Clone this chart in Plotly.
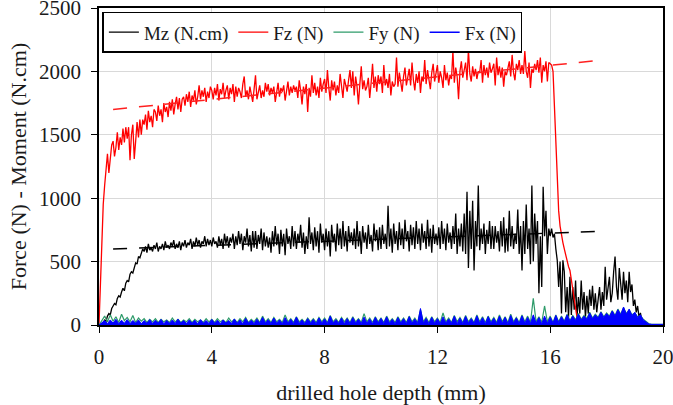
import plotly.graph_objects as go

# sampling grids of drilled depth (mm)
depth_fine = [round(i * 0.05, 2) for i in range(401)]   # Fz, Mz
depth = [round(i * 0.1, 1) for i in range(201)]          # Fy, Fx

fz = [0, 350, 700, 950, 1100, 1250, 1350, 1200, 1300, 1420,
      1450, 1330, 1400, 1520, 1380, 1480, 1420, 1550, 1440, 1560,
      1470, 1560, 1300, 1500, 1580, 1310, 1450, 1600, 1480, 1620,
      1500, 1620, 1580, 1660, 1540, 1690, 1600, 1650, 1560, 1700,
      1680, 1610, 1730, 1650, 1700, 1600, 1750, 1680, 1720, 1640,
      1760, 1690, 1780, 1660, 1740, 1800, 1700, 1790, 1680, 1780,
      1800, 1730, 1820, 1760, 1840, 1720, 1810, 1770, 1850, 1740,
      1800, 1890, 1780, 1850, 1800, 1870, 1760, 1840, 1790, 1880,
      1850, 1780, 1870, 1810, 1900, 1770, 1860, 1820, 1910, 1790,
      1850, 1890, 1780, 1870, 1820, 1900, 1760, 1880, 1800, 1870,
      1840, 1790, 1900, 1960, 1800, 1850, 1780, 1880, 1820, 1760,
      1860, 1970, 1780, 1830, 1890, 1790, 1850, 1800, 1910, 1840,
      1900, 1810, 1870, 1830, 1880, 1760, 1850, 1910, 1800, 1870,
      1840, 1890, 1770, 1860, 1920, 1810, 1880, 1830, 1890, 1850,
      1880, 1790, 1930, 1850, 1740, 1880, 1820, 1900, 1680, 1870,
      1800, 1970, 1830, 1910, 1810, 1880, 1790, 1950, 1840, 1900,
      1940, 1830, 2010, 1870, 1770, 1930, 1850, 1920, 1810, 1890,
      1830, 1980, 1860, 1790, 1940, 1880, 1840, 1930, 2010, 1870,
      2000, 1810, 1960, 1880, 1740, 1900, 2040, 1860, 1930, 1850,
      1880, 1950, 1790, 1910, 2060, 1870, 1960, 1840, 1970, 1900,
      1960, 1830, 2050, 1890, 1940, 1870, 1980, 1810, 1920, 1880,
      1900, 2110, 1880, 1990, 1920, 1840, 1960, 2030, 1890, 1950,
      2020, 1890, 2070, 1930, 1850, 1980, 1910, 2000, 1830, 1960,
      1920, 2090, 1900, 2010, 1940, 1860, 1990, 2060, 1920, 1980,
      2050, 1910, 2000, 1950, 1870, 2050, 1930, 1990, 1890, 1970,
      1940, 2160, 1910, 2030, 1960, 1780, 2000, 2080, 1950, 2010,
      2070, 1930, 2170, 1980, 1920, 2040, 1960, 2020, 1940, 2000,
      1990, 2090, 1910, 2050, 1970, 2030, 1950, 2070, 1990, 2020,
      2060, 1890, 2110, 1970, 2040, 1950, 2030, 1880, 2000, 1970,
      2040, 2080, 1960, 2130, 1990, 1930, 2060, 2010, 2090, 1980,
      2050, 1980, 2160, 2000, 1950, 2070, 1870, 2020, 1990, 2060,
      2010, 2090, 1990, 2110, 1910, 2050, 2000, 2080, 1920, 2070,
      2060, 2050, 2000, 1700, 1350, 1100, 900, 780, 700, 650,
      600, 550, 500, 460, 430, 350, 280, 200, 120, 60,
      20, 10, 10, 5, 0, 0, 0, 0, 0, 0,
      0, 0, 0, 0, 0, 0, 0, 0, 0, 0,
      0, 0, 0, 0, 0, 0, 0, 0, 0, 0,
      0, 0, 0, 0, 0, 0, 0, 0, 0, 0,
      0, 0, 0, 0, 0, 0, 0, 0, 0, 0,
      0, 0, 0, 0, 0, 0, 0, 0, 0, 0,
      0]

mz = [0, 0, 10, 20, 40, 30, 70, 90, 80, 130,
      150, 170, 160, 210, 230, 220, 260, 290, 270, 330,
      350, 340, 400, 420, 410, 460, 490, 480, 540, 530,
      560, 600, 580, 620, 570, 640, 590, 610, 580, 630,
      600, 650, 580, 620, 600, 640, 590, 660, 610, 630,
      600, 650, 620, 670, 600, 640, 610, 660, 590, 650,
      620, 670, 610, 650, 630, 680, 600, 660, 620, 690,
      630, 670, 610, 660, 640, 700, 620, 680, 630, 670,
      620, 690, 640, 660, 610, 700, 630, 680, 600, 720,
      640, 700, 610, 690, 650, 720, 600, 700, 630, 740,
      640, 720, 590, 700, 650, 760, 620, 710, 580, 740,
      610, 740, 600, 710, 640, 760, 590, 730, 620, 700,
      610, 690, 570, 740, 620, 780, 630, 720, 560, 750,
      620, 720, 550, 760, 640, 700, 600, 780, 620, 740,
      600, 720, 650, 790, 610, 730, 560, 700, 600, 850,
      640, 730, 590, 770, 620, 740, 570, 800, 650, 720,
      590, 760, 620, 740, 540, 790, 650, 720, 580, 800,
      630, 760, 600, 820, 620, 740, 580, 780, 650, 730,
      630, 760, 600, 820, 620, 740, 560, 780, 650, 730,
      600, 790, 640, 710, 580, 800, 660, 750, 590, 770,
      600, 790, 640, 720, 600, 940, 620, 760, 570, 800,
      640, 740, 590, 810, 630, 760, 600, 830, 660, 740,
      580, 790, 630, 770, 600, 820, 640, 760, 590, 800,
      650, 740, 600, 830, 620, 760, 570, 790, 640, 720,
      630, 770, 600, 820, 640, 760, 590, 800, 650, 730,
      600, 780, 640, 880, 560, 760, 620, 800, 580, 880,
      560, 1050, 450, 900, 600, 980, 430, 820, 620, 1100,
      590, 760, 640, 800, 560, 750, 640, 820, 600, 780,
      600, 780, 650, 740, 580, 820, 620, 850, 570, 760,
      580, 900, 620, 780, 600, 720, 640, 910, 560, 780,
      430, 820, 560, 950, 600, 760, 480, 1100, 500, 880,
      640, 820, 250, 700, 300, 1090, 700, 900, 560, 760,
      700, 760, 690, 720, 600, 510, 300, 500, 90, 510,
      420, 100, 300, 60, 380, 80, 300, 120, 350, 60,
      220, 90, 350, 120, 260, 60, 230, 90, 280, 150,
      310, 120, 250, 100, 200, 300, 120, 260, 150, 460,
      200, 300, 380, 180, 250, 420, 540, 300, 200, 450,
      300, 200, 420, 250, 350, 180, 420, 260, 320, 150,
      200, 100, 150, 60, 95, 30, 10, 0, 0, 0,
      0, 0, 0, 0, 0, 0, 0, 0, 0, 0,
      0]

fy = [0, 40, 70, 25, 80, 30, 65, 20, 85, 35,
      60, 25, 75, 20, 55, 30, 50, 20, 45, 25,
      50, 20, 45, 25, 40, 20, 55, 25, 45, 20,
      40, 25, 50, 20, 45, 25, 40, 20, 50, 25,
      45, 20, 50, 25, 40, 20, 55, 25, 45, 20,
      50, 25, 60, 20, 45, 25, 55, 20, 70, 25,
      50, 20, 60, 25, 45, 20, 80, 25, 50, 20,
      65, 25, 45, 20, 55, 25, 50, 20, 60, 25,
      55, 20, 75, 25, 50, 20, 60, 25, 55, 20,
      65, 25, 50, 20, 90, 25, 55, 20, 65, 25,
      55, 20, 70, 25, 50, 20, 65, 25, 55, 20,
      70, 25, 55, 20, 120, 25, 60, 20, 65, 25,
      55, 20, 95, 25, 55, 20, 75, 25, 60, 20,
      75, 25, 55, 20, 80, 25, 65, 20, 70, 25,
      60, 20, 80, 25, 65, 20, 85, 25, 60, 20,
      80, 25, 70, 20, 210, 25, 65, 20, 150, 25,
      70, 20, 80, 25, 70, 30, 85, 35, 75, 40,
      90, 45, 75, 50, 100, 55, 85, 60, 105, 65,
      95, 70, 115, 75, 125, 85, 135, 90, 120, 80,
      95, 65, 75, 45, 25, 10, 5, 5, 5, 5,
      5]

fx = [0, 20, 35, 12, 40, 15, 45, 10, 38, 14,
      42, 12, 36, 15, 40, 10, 35, 14, 42, 12,
      38, 15, 44, 10, 36, 14, 40, 12, 46, 15,
      35, 12, 40, 14, 38, 10, 42, 15, 36, 12,
      44, 14, 38, 10, 40, 15, 36, 12, 48, 14,
      40, 10, 52, 15, 38, 12, 46, 14, 60, 15,
      42, 12, 55, 14, 40, 10, 58, 15, 45, 12,
      62, 14, 40, 12, 50, 15, 44, 10, 56, 14,
      48, 12, 70, 15, 42, 14, 55, 10, 50, 12,
      58, 15, 46, 12, 62, 14, 48, 10, 60, 15,
      52, 12, 64, 14, 45, 10, 58, 15, 50, 12,
      66, 14, 48, 12, 130, 15, 52, 10, 60, 14,
      50, 12, 64, 15, 48, 14, 70, 10, 55, 12,
      68, 15, 50, 12, 72, 14, 58, 10, 66, 15,
      54, 12, 70, 14, 60, 10, 75, 15, 56, 12,
      72, 14, 60, 12, 80, 15, 58, 10, 70, 14,
      62, 15, 75, 20, 65, 25, 80, 30, 70, 35,
      85, 40, 70, 45, 95, 50, 80, 55, 100, 60,
      90, 65, 110, 70, 120, 80, 142, 85, 125, 75,
      100, 60, 80, 40, 20, 8, 5, 5, 5, 5,
      5]

# dashed trend lines
trend_x = [0.5, 17.9]
fz_trend = [1700, 2090]
mz_trend = [600, 740]

assert len(fz) == len(depth_fine) and len(mz) == len(depth_fine)
assert len(fy) == len(depth) and len(fx) == len(depth)

FONT = "Liberation Serif, Times New Roman, serif"
TXT = "#1a1a1a"

fig = go.Figure()
fig.add_trace(go.Scatter(x=depth_fine, y=mz, mode="lines", name="Mz (N.cm)",
                         line=dict(color="black", width=1.3)))
fig.add_trace(go.Scatter(x=depth_fine, y=fz, mode="lines", name="Fz (N)",
                         line=dict(color="#ff0000", width=1.3)))
fig.add_trace(go.Scatter(x=depth, y=fy, mode="lines", name="Fy (N)",
                         line=dict(color="#2e9b6a", width=1.2)))
fig.add_trace(go.Scatter(x=depth, y=fx, mode="lines", name="Fx (N)", showlegend=False,
                         line=dict(color="#0000ff", width=1),
                         fill="tozeroy", fillcolor="#0000ff"))
fig.add_trace(go.Scatter(x=trend_x, y=fz_trend, mode="lines", showlegend=False,
                         line=dict(color="#ff2020", width=1.5, dash="14px,12px")))
fig.add_trace(go.Scatter(x=trend_x, y=mz_trend, mode="lines", showlegend=False,
                         line=dict(color="black", width=1.5, dash="14px,12px")))
# legend entry for Fx drawn as a plain line (the filled trace is hidden from the legend)
fig.add_trace(go.Scatter(x=[None], y=[None], mode="lines", name="Fx (N)",
                         line=dict(color="#0000ff", width=1.5)))

axis_common = dict(
    showline=True, linecolor="black", linewidth=1.5, mirror=True,
    ticks="outside", ticklen=6, tickcolor="black", tickwidth=1,
    showgrid=True, gridcolor="#d9d9d9", gridwidth=1,
    zeroline=False, ticklabeloverflow="allow", automargin=False,
    tickfont=dict(family=FONT, size=21, color=TXT),
)

fig.update_layout(
    width=673, height=405,
    margin=dict(l=99, r=10, t=8, b=80),
    paper_bgcolor="white", plot_bgcolor="white",
    font=dict(family=FONT, size=21, color=TXT),
    xaxis=dict(range=[0, 20], dtick=4, tick0=0, ticklabelstandoff=6,
               title=dict(text="drilled hole depth (mm)",
                          font=dict(family=FONT, size=22, color=TXT), standoff=18),
               **axis_common),
    yaxis=dict(range=[0, 2500], dtick=500, tick0=0, ticklabelstandoff=6,
               title=dict(text="Force (N) - Moment (N.cm)",
                          font=dict(family=FONT, size=22, color=TXT), standoff=6),
               **axis_common),
    legend=dict(orientation="h", x=0.006, y=0.988, xanchor="left", yanchor="top",
                bgcolor="white", bordercolor="black", borderwidth=1.5,
                font=dict(family=FONT, size=19, color=TXT),
                itemwidth=30, tracegroupgap=0),
    showlegend=True,
)

fig.write_html("out.html")
